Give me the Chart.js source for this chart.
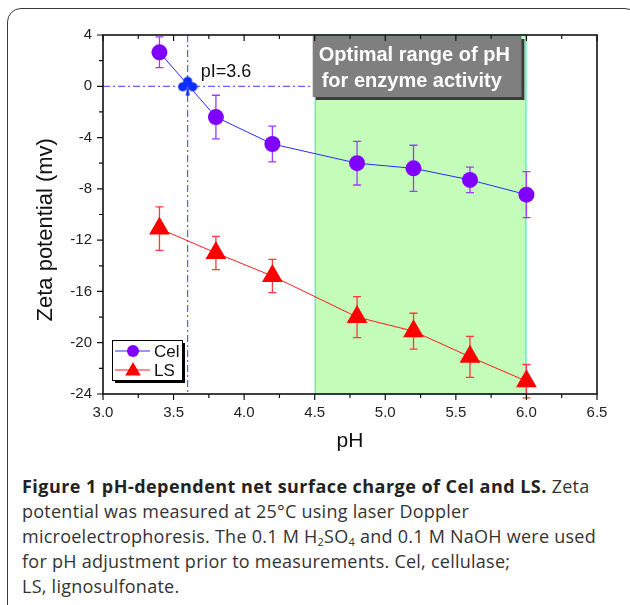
<!DOCTYPE html>
<html>
<head>
<meta charset="utf-8">
<script src="https://cdn.jsdelivr.net/npm/chart.js@4.4.1/dist/chart.umd.min.js"></script>
<style>
  html, body { margin: 0; padding: 0; background: #fff; overflow: hidden; }
  body { width: 630px; height: 605px; position: relative; }
  #frame {
    position: absolute; left: 7px; top: 8px; width: 632px; height: 640px;
    border: 1.5px solid #3a3a3a; border-radius: 14px; box-sizing: border-box;
  }
  #chartOne { position: absolute; left: 0; top: 0; }
  #caption {
    position: absolute; left: 22px; top: 474px;
    font-family: "Open Sans", "Noto Sans", sans-serif; font-size: 18px;
    letter-spacing: 0.25px;
    line-height: 25px; color: #333; white-space: nowrap;
  }
  #caption b { font-weight: 700; color: #222; letter-spacing: 0.45px; }
  #caption sub { font-size: 11px; line-height: 0; vertical-align: -3px; }
</style>
</head>
<body>
<div id="frame"></div>
<canvas id="chartOne" width="630" height="460"></canvas>
<div id="caption">
  <b>Figure 1 pH-dependent net surface charge of Cel and LS.</b> Zeta<br>
  potential was measured at 25°C using laser Doppler<br>
  microelectrophoresis. The 0.1 M H<sub>2</sub>SO<sub>4</sub> and 0.1 M NaOH were used<br>
  for pH adjustment prior to measurements. Cel, cellulase;<br>
  LS, lignosulfonate.
</div>
<script>
// data
const phValues = [3.4, 3.8, 4.2, 4.8, 5.2, 5.6, 6.0];
const celZeta = [2.65, -2.4, -4.5, -6.0, -6.4, -7.3, -8.45];
const celErr = [1.2, 1.7, 1.4, 1.7, 1.8, 1.0, 1.8];
const lsZeta = [-11.1, -13.0, -14.8, -18.0, -19.1, -21.1, -23.0];
const lsErr = [1.7, 1.3, 1.3, 1.6, 1.4, 1.6, 1.3];
const seriesNames = ['Cel', 'LS'];
const isoPoint = [3.6, 0];
const isoLabel = 'pI=3.6';
const optimalRange = [4.5, 6.0];
const optimalText = ['Optimal range of pH', 'for enzyme activity'];
const xMin = 3.0, xMax = 6.5, xStep = 0.5;
const yMin = -24, yMax = 4, yStep = 4;

const FONT = "'Liberation Sans', Arial, sans-serif";

// club symbol for the isoelectric point
function clubIcon() {
    const c = document.createElement('canvas');
    c.width = 20; c.height = 20;
    const g = c.getContext('2d');
    g.fillStyle = '#0a2dff';
    [[10, 5], [5, 10.5], [15, 10.5]].forEach(p => {
        g.beginPath(); g.arc(p[0], p[1], 4.6, 0, Math.PI * 2); g.fill();
    });
    g.beginPath(); g.moveTo(10, 8); g.lineTo(12, 19.5); g.lineTo(8, 19.5); g.closePath(); g.fill();
    return c;
}

const decorPlugin = {
    id: 'decor',
    beforeDatasetsDraw(chart) {
        const ctx = chart.ctx, a = chart.chartArea;
        const xs = chart.scales.x, ys = chart.scales.y;
        ctx.save();
        // dash-dot guide lines through pI
        ctx.strokeStyle = '#3a3aff';
        ctx.lineWidth = 1;
        ctx.setLineDash([7, 3, 2, 3]);
        const px = xs.getPixelForValue(isoPoint[0]);
        const py = ys.getPixelForValue(isoPoint[1]);
        ctx.beginPath(); ctx.moveTo(px, a.top); ctx.lineTo(px, a.bottom); ctx.stroke();
        ctx.beginPath(); ctx.moveTo(a.left, py); ctx.lineTo(xs.getPixelForValue(optimalRange[1]), py); ctx.stroke();
        ctx.setLineDash([]);

        // optimal pH region
        const gx0 = xs.getPixelForValue(optimalRange[0]);
        const gx1 = xs.getPixelForValue(optimalRange[1]);
        ctx.fillStyle = '#c3fdb9';
        ctx.fillRect(gx0, a.top, gx1 - gx0, a.bottom - a.top);
        ctx.strokeStyle = '#3ee0c4';
        ctx.strokeRect(gx0 + 0.5, a.top, gx1 - gx0 - 1, a.bottom - a.top);

        // grey text box
        const bx = gx0 - 2, by = a.top + 1, bw = gx1 - gx0 - 3, bh = 61;
        ctx.fillStyle = '#3c3c3c';
        ctx.fillRect(bx + 3, by + 3, bw, bh);
        ctx.fillStyle = '#7f7f7f';
        ctx.fillRect(bx, by, bw, bh);
        ctx.fillStyle = '#fff';
        ctx.font = 'bold 20px ' + FONT;
        ctx.textBaseline = 'alphabetic';
        ctx.fillText(optimalText[0], bx + 6, by + 25);
        ctx.fillText(optimalText[1], bx + 9, by + 51);

        // error bars
        const errs = [celErr, lsErr];
        const cols = ['#9b3cff', '#ff3a3a'];
        [0, 1].forEach(i => {
            const ds = chart.data.datasets[i];
            ctx.strokeStyle = cols[i];
            ctx.lineWidth = 1.3;
            ds.data.forEach((p, k) => {
                const x = xs.getPixelForValue(p.x);
                const y0 = ys.getPixelForValue(p.y + errs[i][k]);
                const y1 = ys.getPixelForValue(p.y - errs[i][k]);
                ctx.beginPath();
                ctx.moveTo(x, y0); ctx.lineTo(x, y1);
                ctx.moveTo(x - 4, y0); ctx.lineTo(x + 4, y0);
                ctx.moveTo(x - 4, y1); ctx.lineTo(x + 4, y1);
                ctx.stroke();
            });
        });
        ctx.restore();
    },
    afterDatasetsDraw(chart) {
        const ctx = chart.ctx, a = chart.chartArea;
        const xs = chart.scales.x, ys = chart.scales.y;
        ctx.save();
        ctx.strokeStyle = '#111';
        ctx.lineWidth = 1.6;
        ctx.strokeRect(a.left, a.top, a.right - a.left, a.bottom - a.top);

        // tick marks: bottom out, top in, left out
        ctx.lineWidth = 1.2;
        ctx.beginPath();
        xs.ticks.forEach((t, i) => {
            const x = xs.getPixelForValue(t.value);
            ctx.moveTo(x, a.bottom); ctx.lineTo(x, a.bottom + 6);
            ctx.moveTo(x, a.top); ctx.lineTo(x, a.top + 6);
            if (i < xs.ticks.length - 1) {
                const m = xs.getPixelForValue(t.value + xStep / 2);
                ctx.moveTo(m, a.bottom); ctx.lineTo(m, a.bottom + 4);
                ctx.moveTo(m, a.top); ctx.lineTo(m, a.top + 4);
            }
        });
        ys.ticks.forEach((t, i) => {
            const y = ys.getPixelForValue(t.value);
            ctx.moveTo(a.left, y); ctx.lineTo(a.left - 6, y);
            if (i < ys.ticks.length - 1) {
                const m = ys.getPixelForValue(t.value + yStep / 2);
                ctx.moveTo(a.left, m); ctx.lineTo(a.left - 4, m);
            }
        });
        ctx.stroke();

        // pI label
        ctx.fillStyle = '#111';
        ctx.font = '18px ' + FONT;
        ctx.textBaseline = 'alphabetic';
        ctx.fillText(isoLabel, xs.getPixelForValue(isoPoint[0]) + 13, ys.getPixelForValue(isoPoint[1]) - 9);

        // legend box
        const lx = a.left + 9, ly = a.bottom - 54, lw = 70, lh = 40;
        ctx.fillStyle = '#000';
        ctx.fillRect(lx + 3, ly + 3, lw, lh);
        ctx.fillStyle = '#fff';
        ctx.fillRect(lx, ly, lw, lh);
        ctx.strokeStyle = '#000';
        ctx.lineWidth = 1;
        ctx.strokeRect(lx + 0.5, ly + 0.5, lw, lh);
        ctx.font = '17px ' + FONT;
        [0, 1].forEach(i => {
            const ds = chart.data.datasets[i];
            const yy = ly + 11 + i * 19;
            ctx.strokeStyle = ds.borderColor;
            ctx.lineWidth = 1;
            ctx.beginPath(); ctx.moveTo(lx + 3, yy); ctx.lineTo(lx + 38, yy); ctx.stroke();
            ctx.fillStyle = ds.pointBackgroundColor;
            Chart.helpers.drawPoint(ctx, { pointStyle: ds.pointStyle, radius: i === 0 ? 6 : 9, rotation: 0, borderWidth: 0 }, lx + 21, yy + (i === 0 ? 0 : 1));
            ctx.fillStyle = '#111';
            ctx.fillText(ds.label, lx + 42, yy + 6);
        });
        ctx.restore();
    }
};

const canvas = document.getElementById('chartOne');
const ctx = canvas.getContext('2d');

let chart_one = new Chart(ctx, {
    type: 'line',
    data: {
        datasets: [{
            label: seriesNames[0],
            data: phValues.map((x, i) => ({ x: x, y: celZeta[i] })),
            borderColor: '#2a2aff',
            borderWidth: 1,
            pointStyle: 'circle',
            pointRadius: 8,
            pointBackgroundColor: '#8000ff',
            pointBorderWidth: 0,
        }, {
            label: seriesNames[1],
            data: phValues.map((x, i) => ({ x: x, y: lsZeta[i] })),
            borderColor: '#ff1a1a',
            borderWidth: 1,
            pointStyle: 'triangle',
            pointRadius: 12,
            pointBackgroundColor: '#ff0000',
            pointBorderWidth: 0,
        }, {
            label: 'pI',
            data: [{ x: isoPoint[0], y: isoPoint[1] }],
            showLine: false,
            pointStyle: clubIcon(),
        }]
    },
    options: {
        responsive: false,
        animation: false,
        events: [],
        layout: { padding: { left: 0, right: 33, top: 35, bottom: 0 } },
        plugins: { legend: { display: false }, tooltip: { enabled: false } },
        scales: {
            x: {
                type: 'linear', min: xMin, max: xMax,
                grid: { display: false, drawTicks: false },
                border: { display: false },
                ticks: {
                    stepSize: xStep, padding: 10, color: '#222',
                    font: { family: FONT, size: 15 },
                    callback: v => v.toFixed(1),
                },
                title: {
                    display: true, text: 'pH', color: '#111',
                    font: { family: FONT, size: 21 },
                    padding: { top: 0, bottom: 6 },
                },
                afterFit(s) { s.height = 66; }
            },
            y: {
                min: yMin, max: yMax,
                grid: { display: false, drawTicks: false },
                border: { display: false },
                ticks: {
                    stepSize: yStep, padding: 11, color: '#222',
                    font: { family: FONT, size: 15 },
                },
                title: {
                    display: true, text: 'Zeta potential (mv)     ', color: '#111',
                    font: { family: FONT, size: 22 },
                    padding: { top: 33, bottom: 0 },
                },
                afterFit(s) { s.width = 103; }
            }
        }
    },
    plugins: [decorPlugin]
});
</script>
</body>
</html>
